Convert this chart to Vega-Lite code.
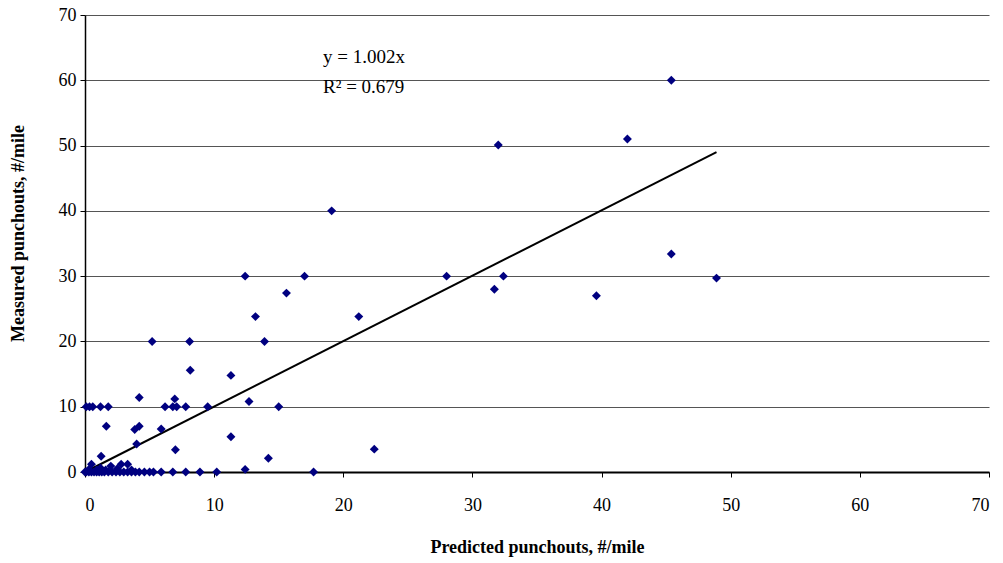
{
  "$schema": "https://vega.github.io/schema/vega-lite/v6.json",
  "autosize": "none",
  "width": 904,
  "height": 457,
  "padding": {"left": 85, "top": 15, "right": 14, "bottom": 91},
  "background": "white",
  "config": {"view": {"stroke": null}, "font": "Liberation Serif"},
  "datasets": {
    "points": [
      {"predicted": 45.4, "measured": 60.0}, {"predicted": 42.0, "measured": 51.0}, {"predicted": 32.0, "measured": 50.1},
      {"predicted": 19.1, "measured": 40.0}, {"predicted": 45.4, "measured": 33.4}, {"predicted": 48.9, "measured": 29.7},
      {"predicted": 28.0, "measured": 30.0}, {"predicted": 32.4, "measured": 30.0}, {"predicted": 31.7, "measured": 28.0},
      {"predicted": 39.6, "measured": 27.0}, {"predicted": 12.4, "measured": 30.0}, {"predicted": 17.0, "measured": 30.0},
      {"predicted": 15.6, "measured": 27.4}, {"predicted": 13.2, "measured": 23.8}, {"predicted": 21.2, "measured": 23.8},
      {"predicted": 5.2, "measured": 20.0}, {"predicted": 8.1, "measured": 20.0}, {"predicted": 13.9, "measured": 20.0},
      {"predicted": 8.15, "measured": 15.6}, {"predicted": 11.3, "measured": 14.8}, {"predicted": 4.2, "measured": 11.4},
      {"predicted": 6.95, "measured": 11.2}, {"predicted": 12.7, "measured": 10.8},
      {"predicted": 0.1, "measured": 10.0}, {"predicted": 0.35, "measured": 10.0}, {"predicted": 0.6, "measured": 10.0},
      {"predicted": 1.2, "measured": 10.0}, {"predicted": 1.8, "measured": 10.0}, {"predicted": 6.2, "measured": 10.0},
      {"predicted": 6.8, "measured": 10.0}, {"predicted": 7.1, "measured": 10.0}, {"predicted": 7.8, "measured": 10.0},
      {"predicted": 9.5, "measured": 10.0}, {"predicted": 15.0, "measured": 10.0},
      {"predicted": 1.65, "measured": 7.0}, {"predicted": 3.85, "measured": 6.5}, {"predicted": 4.2, "measured": 7.0},
      {"predicted": 5.9, "measured": 6.6}, {"predicted": 4.0, "measured": 4.3}, {"predicted": 7.0, "measured": 3.4},
      {"predicted": 11.3, "measured": 5.4}, {"predicted": 14.2, "measured": 2.1}, {"predicted": 22.4, "measured": 3.5},
      {"predicted": 1.25, "measured": 2.4}, {"predicted": 0.5, "measured": 1.2}, {"predicted": 2.8, "measured": 1.2},
      {"predicted": 3.3, "measured": 1.2}, {"predicted": 12.4, "measured": 0.4}, {"predicted": 2.0, "measured": 0.9},
      {"predicted": 1.2, "measured": 0.6}, {"predicted": 0.9, "measured": 0.3}, {"predicted": 2.5, "measured": 0.5},
      {"predicted": 3.6, "measured": 0.3}, {"predicted": 0.3, "measured": 0.4}, {"predicted": 1.6, "measured": 0.3},
      {"predicted": 17.7, "measured": 0}, {"predicted": 10.2, "measured": 0}, {"predicted": 8.9, "measured": 0},
      {"predicted": 7.8, "measured": 0}, {"predicted": 6.8, "measured": 0}, {"predicted": 5.9, "measured": 0},
      {"predicted": 5.3, "measured": 0}, {"predicted": 5.0, "measured": 0}, {"predicted": 4.6, "measured": 0},
      {"predicted": 4.2, "measured": 0}, {"predicted": 3.9, "measured": 0}, {"predicted": 3.6, "measured": 0},
      {"predicted": 3.3, "measured": 0}, {"predicted": 3.0, "measured": 0}, {"predicted": 2.7, "measured": 0},
      {"predicted": 2.4, "measured": 0}, {"predicted": 2.1, "measured": 0}, {"predicted": 1.8, "measured": 0},
      {"predicted": 1.5, "measured": 0}, {"predicted": 1.3, "measured": 0}, {"predicted": 1.1, "measured": 0},
      {"predicted": 0.9, "measured": 0}, {"predicted": 0.7, "measured": 0}, {"predicted": 0.5, "measured": 0},
      {"predicted": 0.3, "measured": 0}, {"predicted": 0.1, "measured": 0}, {"predicted": 0.0, "measured": 0}
    ],
    "trend": [
      {"predicted": 0, "measured": 0},
      {"predicted": 48.9, "measured": 49.0}
    ],
    "labels": [
      {"predicted": 18.43, "measured": 62.6, "text": "y = 1.002x"},
      {"predicted": 18.43, "measured": 58.0, "text": "R² = 0.679"}
    ]
  },
  "encoding": {
    "x": {
      "field": "predicted", "type": "quantitative",
      "scale": {"domain": [0, 70], "nice": false, "zero": true},
      "axis": {
        "values": [0, 10, 20, 30, 40, 50, 60, 70],
        "grid": false,
        "domainColor": "black", "domainWidth": 2,
        "tickColor": "black", "tickSize": 5, "tickWidth": 1,
        "labelFont": "Liberation Serif", "labelFontSize": 18, "labelColor": "black",
        "labelPadding": 19,
        "title": "Predicted punchouts, #/mile",
        "titleFont": "Liberation Serif", "titleFontSize": 18, "titleFontWeight": "bold", "titleColor": "black",
        "titleBaseline": "middle", "titleY": 75
      }
    },
    "y": {
      "field": "measured", "type": "quantitative",
      "scale": {"domain": [0, 70], "nice": false, "zero": true},
      "axis": {
        "values": [0, 10, 20, 30, 40, 50, 60, 70],
        "grid": true, "gridColor": "#555555", "gridWidth": 1,
        "domainColor": "black", "domainWidth": 1.5,
        "tickColor": "black", "tickSize": 5, "tickWidth": 1,
        "labelFont": "Liberation Serif", "labelFontSize": 18, "labelColor": "black",
        "labelPadding": 4,
        "title": "Measured punchouts, #/mile",
        "titleFont": "Liberation Serif", "titleFontSize": 18, "titleFontWeight": "bold", "titleColor": "black",
        "titleAngle": -90, "titleAlign": "center", "titleBaseline": "middle",
        "titleX": -67, "titleY": 218
      }
    }
  },
  "layer": [
    {
      "data": {"name": "trend"},
      "mark": {"type": "line", "color": "black", "strokeWidth": 2},
      "encoding": {}
    },
    {
      "data": {"name": "points"},
      "mark": {"type": "point", "shape": "diamond", "filled": true, "color": "#000080", "size": 80, "opacity": 1},
      "encoding": {}
    },
    {
      "data": {"name": "labels"},
      "mark": {"type": "text", "align": "left", "baseline": "alphabetic", "font": "Liberation Serif", "fontSize": 19, "color": "black"},
      "encoding": {"text": {"field": "text", "type": "nominal"}}
    }
  ]
}
